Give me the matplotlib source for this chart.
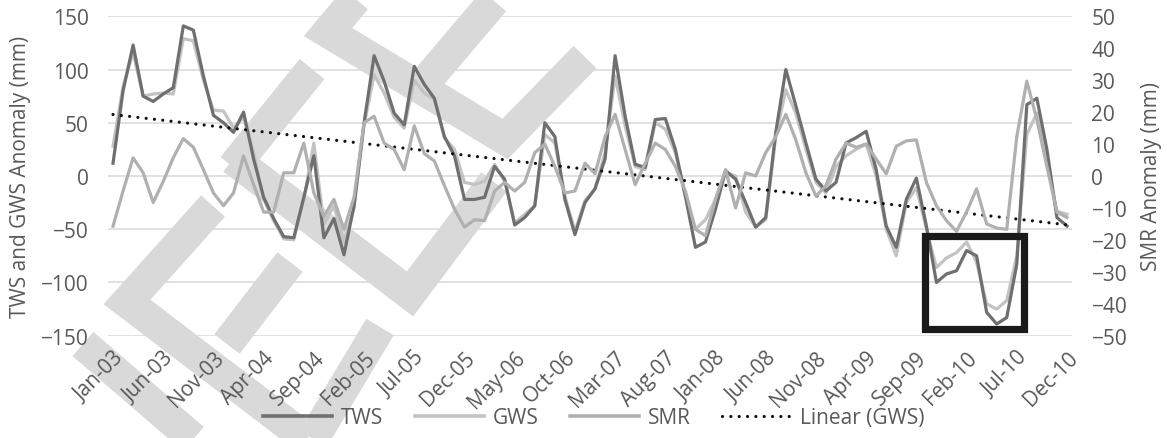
import numpy as np
import matplotlib
matplotlib.use("Agg")
import matplotlib.pyplot as plt
from matplotlib.lines import Line2D
from matplotlib.patches import Rectangle

plt.rcParams['font.family'] = ['Open Sans', 'DejaVu Sans']

# Monthly labels Jan-03 .. Dec-10
months = ['Jan', 'Feb', 'Mar', 'Apr', 'May', 'Jun', 'Jul', 'Aug', 'Sep', 'Oct', 'Nov', 'Dec']
years = ['03', '04', '05', '06', '07', '08', '09', '10']
dates = [f"{m}-{y}" for y in years for m in months]

# Terrestrial water storage anomaly (mm)
tws = [12, 80, 123, 75, 70, 77, 83, 141, 137, 94, 57, 50,
       41, 60, 16, -20, -40, -57, -58, -20, 19, -58, -40, -74,
       -28, 50, 113, 89, 59, 48, 103, 86, 73, 37, 19, -22,
       -22, -20, 9, -3, -46, -39, -28, 50, 37, -22, -55, -25,
       -12, 16, 113, 56, 11, 8, 53, 54, 25, -19, -67, -62,
       -31, 5, -3, -25, -48, -39, 41, 100, 66, 31, -3, -14,
       -6, 31, 36, 42, 6, -47, -67, -22, -2, -47, -100, -92,
       -89, -70, -75, -128, -139, -133, -83, 67, 73, 25, -39, -47]

# Groundwater storage anomaly (mm)
gws = [28, 84, 116, 75, 77, 78, 77, 129, 127, 90, 62, 61,
       45, 55, 22, -22, -42, -59, -60, -22, 31, -45, -28, -62,
       -30, 48, 95, 78, 55, 45, 90, 78, 72, 36, 25, -6,
       -8, -5, 11, -5, -44, -36, -28, 39, 31, -19, -52, -23,
       -12, 22, 94, 47, 9, 6, 50, 44, 22, -19, -50, -41,
       -22, 3, 0, -34, -48, -41, 37, 81, 59, 25, -6, -16,
       9, 19, 25, 30, 0, -50, -75, -25, -11, -50, -86, -77,
       -72, -62, -81, -120, -125, -117, -75, 39, 59, 12, -33, -36]

# Soil moisture reservoir anomaly (mm, secondary axis)
smr = [-15.7, -4.7, 5.7, 1.0, -8.3, -1.7, 5.7, 11.7, 9.0, 2.0, -5.3, -9.3,
       -5.3, 6.3, -2.7, -11.3, -11.3, 1.0, 1.0, 10.3, -5.3, -12.7, -7.3, -16.7,
       -6.7, 16.7, 18.7, 10.3, 8.3, 2.0, 15.7, 7.0, 4.7, -3.0, -10.3, -16.0,
       -13.7, -14.0, -4.7, -2.0, -4.7, -2.0, 7.3, 10.0, 3.0, -5.3, -4.7, 4.0,
       0.7, 12.3, 19.3, 8.3, -2.7, 4.0, 10.3, 8.3, 3.0, -4.7, -16.7, -18.7,
       -7.3, 2.0, -10.0, 1.0, 0.0, 7.3, 12.3, 19.3, 11.3, 1.0, -6.3, -3.0,
       5.3, 10.3, 9.0, 10.0, 5.3, 0.7, 9.3, 11.0, 11.3, -2.0, -9.3, -14.0,
       -17.3, -11.3, -4.0, -15.0, -16.3, -16.7, 12.3, 29.7, 17.7, 3.0, -11.3, -13.0]

# Highlighted drought window (category index span, mm span)
box_x = (80.9, 90.7)
box_y = (-144.0, -56.7)

W, H = 1167, 439
TEXT = '#595959'
FS = 15

fig = plt.figure(figsize=(W / 100, H / 100), dpi=100)

# Background mark strokes, in figure pixels
strokes = [
    [(385, -35), (328, 33), (505, 140), (585, 58)],
    [(420, 89), (494, 2)],
    [(312, 70), (233, 168)],
    [(233, 160), (410, 295), (494, 183)],
    [(213, 207), (127, 303), (320, 450)],
    [(227, 345), (290, 263)],
    [(313, 440), (380, 328)],
    [(83, 345), (205, 450)],
]
for s in strokes:
    xs = [p[0] / W for p in s]
    ys = [1 - p[1] / H for p in s]
    fig.add_artist(Line2D(xs, ys, transform=fig.transFigure, lw=23,
                          color='#d9d9d9', solid_joinstyle='miter',
                          solid_capstyle='butt', zorder=-5))

ax = fig.add_axes([108 / W, 1 - 336.7 / H, (1072 - 108) / W, (336.7 - 17.3) / H])
ax.patch.set_visible(False)
ax2 = ax.twinx()
ax2.patch.set_visible(False)

idx = np.arange(len(dates))
coef = np.polyfit(idx, np.array(gws, dtype=float), 1)
trend = np.polyval(coef, idx)

l_tws, = ax.plot(idx, tws, color='#6f6f6f', lw=2.3, zorder=4)
l_gws, = ax.plot(idx, gws, color='#c3c3c3', lw=2.3, zorder=3)
l_tr, = ax.plot(idx, trend, color='#111111', lw=2.3, linestyle=(0, (0.01, 2.6)),
                dash_capstyle='round', zorder=5)
l_smr, = ax2.plot(idx, smr, color='#b0b0b0', lw=2.3, zorder=3)

ax2.add_patch(Rectangle((box_x[0], box_y[0]), box_x[1] - box_x[0], box_y[1] - box_y[0],
                        transform=ax.transData, fill=False, edgecolor='#1a1a1a',
                        lw=5.2, joinstyle='miter', zorder=10))

ax.set_xlim(-0.5, len(dates) - 0.5)
ax.set_ylim(-150, 150)
ax.set_yticks(np.arange(-150, 151, 50))
ax2.set_ylim(-50, 50)
ax2.set_yticks(np.arange(-50, 51, 10))
ax.set_xticks(idx[::5])
ax.set_xticklabels([dates[i] for i in idx[::5]], rotation=45, ha='right',
                   va='top', rotation_mode='anchor')

ax.grid(axis='y', color='#d9d9d9', lw=1.1, zorder=0)
ax.set_axisbelow(True)
for a in (ax, ax2):
    for sp in a.spines.values():
        sp.set_visible(False)
    a.tick_params(length=0, labelsize=FS, labelcolor=TEXT)
ax.tick_params(axis='y', pad=14)
ax2.tick_params(axis='y', pad=14)
ax.tick_params(axis='x', pad=8)

ax.set_ylabel('TWS and GWS Anomaly (mm)', fontsize=FS, color=TEXT, labelpad=7)
ax2.set_ylabel('SMR Anomaly (mm)', fontsize=FS, color=TEXT, labelpad=10)

handles = [Line2D([], [], color='#6f6f6f', lw=2.6),
           Line2D([], [], color='#c3c3c3', lw=2.6),
           Line2D([], [], color='#b0b0b0', lw=2.6),
           Line2D([], [], color='#111111', lw=2.3, linestyle=(0, (0.01, 2.6)),
                  dash_capstyle='round')]
fig.legend(handles, ['TWS', 'GWS', 'SMR', 'Linear (GWS)'], loc='center',
           bbox_to_anchor=(594 / W, 1 - 419 / H), ncol=4, frameon=False,
           fontsize=FS, labelcolor=TEXT, handlelength=3.3, handletextpad=0.45,
           columnspacing=1.5, borderpad=0)

fig.savefig('out.png', dpi=100)
